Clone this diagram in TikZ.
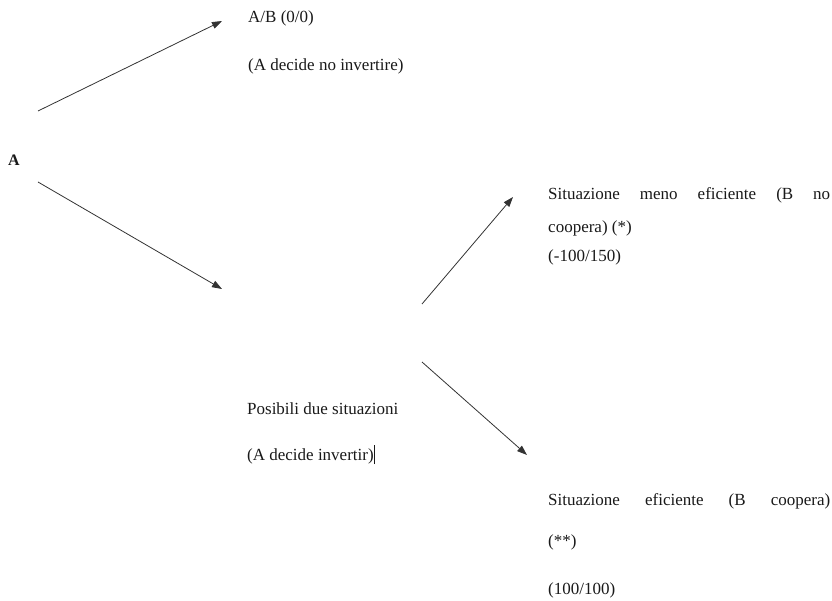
\documentclass[tikz,border=0pt]{standalone}
\usepackage{fontspec}
\setmainfont{Liberation Serif}
\usetikzlibrary{arrows.meta}
\tikzstyle{payoff} = [anchor=base west, inner sep=0pt, text=black!90,
    font=\fontsize{17}{20}\selectfont]
\tikzstyle{player} = [anchor=center, inner sep=0pt, text=black!90,
    font=\fontsize{16}{20}\selectfont\bfseries]
\tikzstyle{line} = [draw=black!80, line width=0.8pt, -{Triangle[length=10pt,width=7pt]}]
\newcommand{\rowwidth}{282pt}

\begin{document}
\begin{tikzpicture}[x=1pt,y=-1pt]
    \useasboundingbox (0,0) rectangle (832,601);
    % Place nodes
    \node[player] (A) at (14,160) {A};
    \node[payoff] (nobuy) at (248,23) {A/B (0/0)};
    \node[payoff] (nobuytxt) at (248,71) {(A decide no invertire)};
    \node[payoff] (worse) at (548,200) {\makebox[\rowwidth][s]{Situazione meno eficiente (B no}};
    \node[payoff] (worse2) at (548,233) {coopera) (*)};
    \node[payoff] (worse3) at (548,262) {(-100/150)};
    \node[payoff] (buy) at (247,414) {Posibili due situazioni};
    \node[payoff] (buytxt) at (247,460) {(A decide invertir)\rule[-4pt]{0.7pt}{19pt}};
    \node[payoff] (best) at (548,505) {\makebox[\rowwidth][s]{Situazione eficiente (B coopera)}};
    \node[payoff] (best2) at (548,546) {(**)};
    \node[payoff] (best3) at (548,594) {(100/100)};
    % Branch ends
    \coordinate (up0) at (38,111);
    \coordinate (up1) at (222,21);
    \coordinate (dn0) at (38,182);
    \coordinate (dn1) at (222,289);
    \coordinate (bup0) at (422,304);
    \coordinate (bup1) at (513,197);
    \coordinate (bdn0) at (422,362);
    \coordinate (bdn1) at (527,455);
    % Draw edges
    \path [line] (up0) -- (up1);
    \path [line] (dn0) -- (dn1);
    \path [line] (bup0) -- (bup1);
    \path [line] (bdn0) -- (bdn1);
\end{tikzpicture}
\end{document}
